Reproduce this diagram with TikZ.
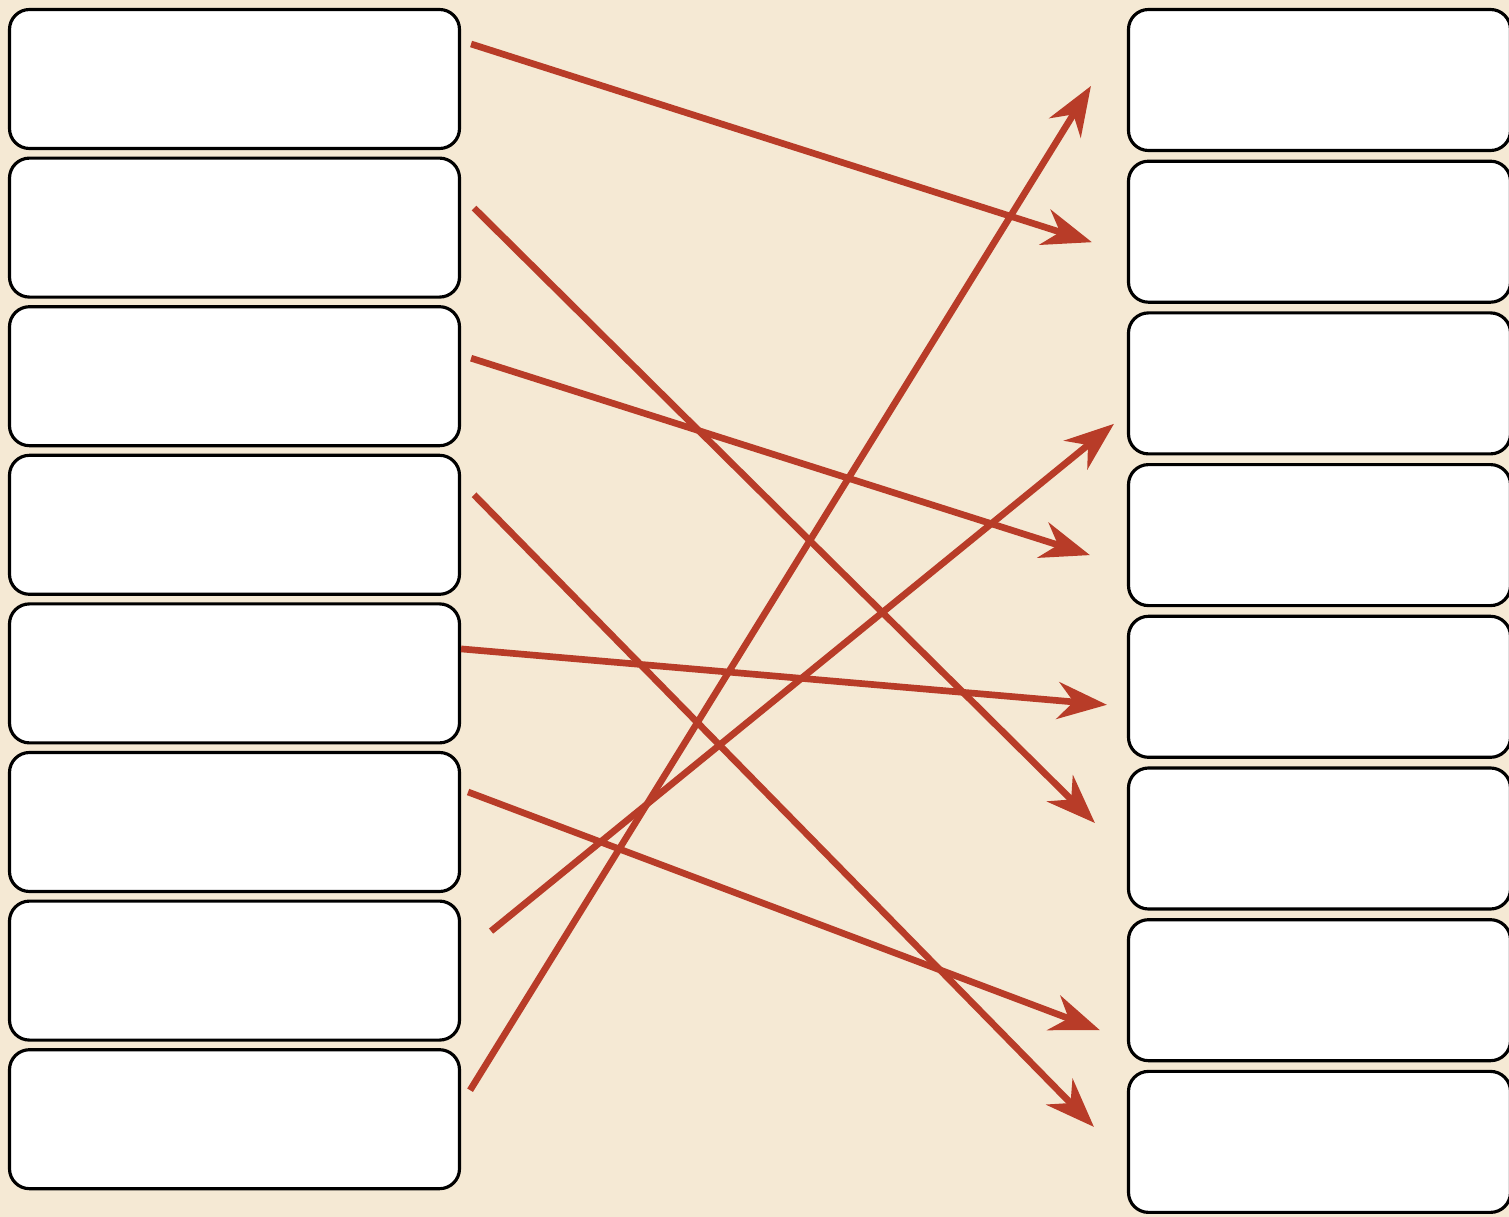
\documentclass[tikz,border=0pt]{standalone}
\usepackage{xcolor}
\usepackage{tikz}
\usetikzlibrary{arrows.meta, calc, positioning}

\definecolor{parchment}{RGB}{245,233,212}
\definecolor{linkred}{RGB}{184,60,40}

\begin{document}
\begin{tikzpicture}[>=Stealth,
    leftbox/.style={draw=black,fill=white,line width=1.8pt,rounded corners=0.4cm,
                    minimum width=9.0cm,minimum height=2.78cm},
    rightbox/.style={draw=black,fill=white,line width=1.8pt,rounded corners=0.4cm,
                     minimum width=7.64cm,minimum height=2.82cm},
    link/.style={draw=linkred,line width=3.8pt,
                 -{Stealth[length=28pt,width=21pt,inset=9pt]}}]
  % ---- background ----
  \fill[parchment] (0,0) rectangle (30.18,-24.34);
  \useasboundingbox (0,0) rectangle (30.18,-24.34);
  % ---- left column ----
  \foreach \i in {1,...,8} {
    \node[leftbox] (l\i) at (4.69,{-1.58-2.972*(\i-1)}) {};
  }
  % ---- right column ----
  \foreach \i in {1,...,8} {
    \node[rightbox] (r\i) at (26.39,{-1.60-3.034*(\i-1)}) {};
  }
  % ---- matching arrows ----
  \draw[link] ($(l1.east)+(0.20,0.70)$) -- ($(r2.west)+(-0.70,-0.21)$);
  \draw[link] ($(l2.east)+(0.26,0.39)$) -- ($(r6.west)+(-0.64,0.31)$);
  \draw[link] ($(l3.east)+(0.20,0.36)$) -- ($(r4.west)+(-0.74,-0.40)$);
  \draw[link] ($(l4.east)+(0.26,0.60)$) -- ($(r8.west)+(-0.66,0.30)$);
  \draw[link] ($(l5.east)+(0.00,0.49)$) -- ($(r5.west)+(-0.40,-0.36)$);
  \draw[link] ($(l6.east)+(0.14,0.60)$) -- ($(r7.west)+(-0.54,-0.80)$);
  \draw[link] ($(l7.east)+(0.60,0.79)$) -- ($(r3.west)+(-0.26,-0.81)$);
  \draw[link] ($(l8.east)+(0.18,0.58)$) -- ($(r1.west)+(-0.72,-0.12)$);
\end{tikzpicture}
\end{document}
